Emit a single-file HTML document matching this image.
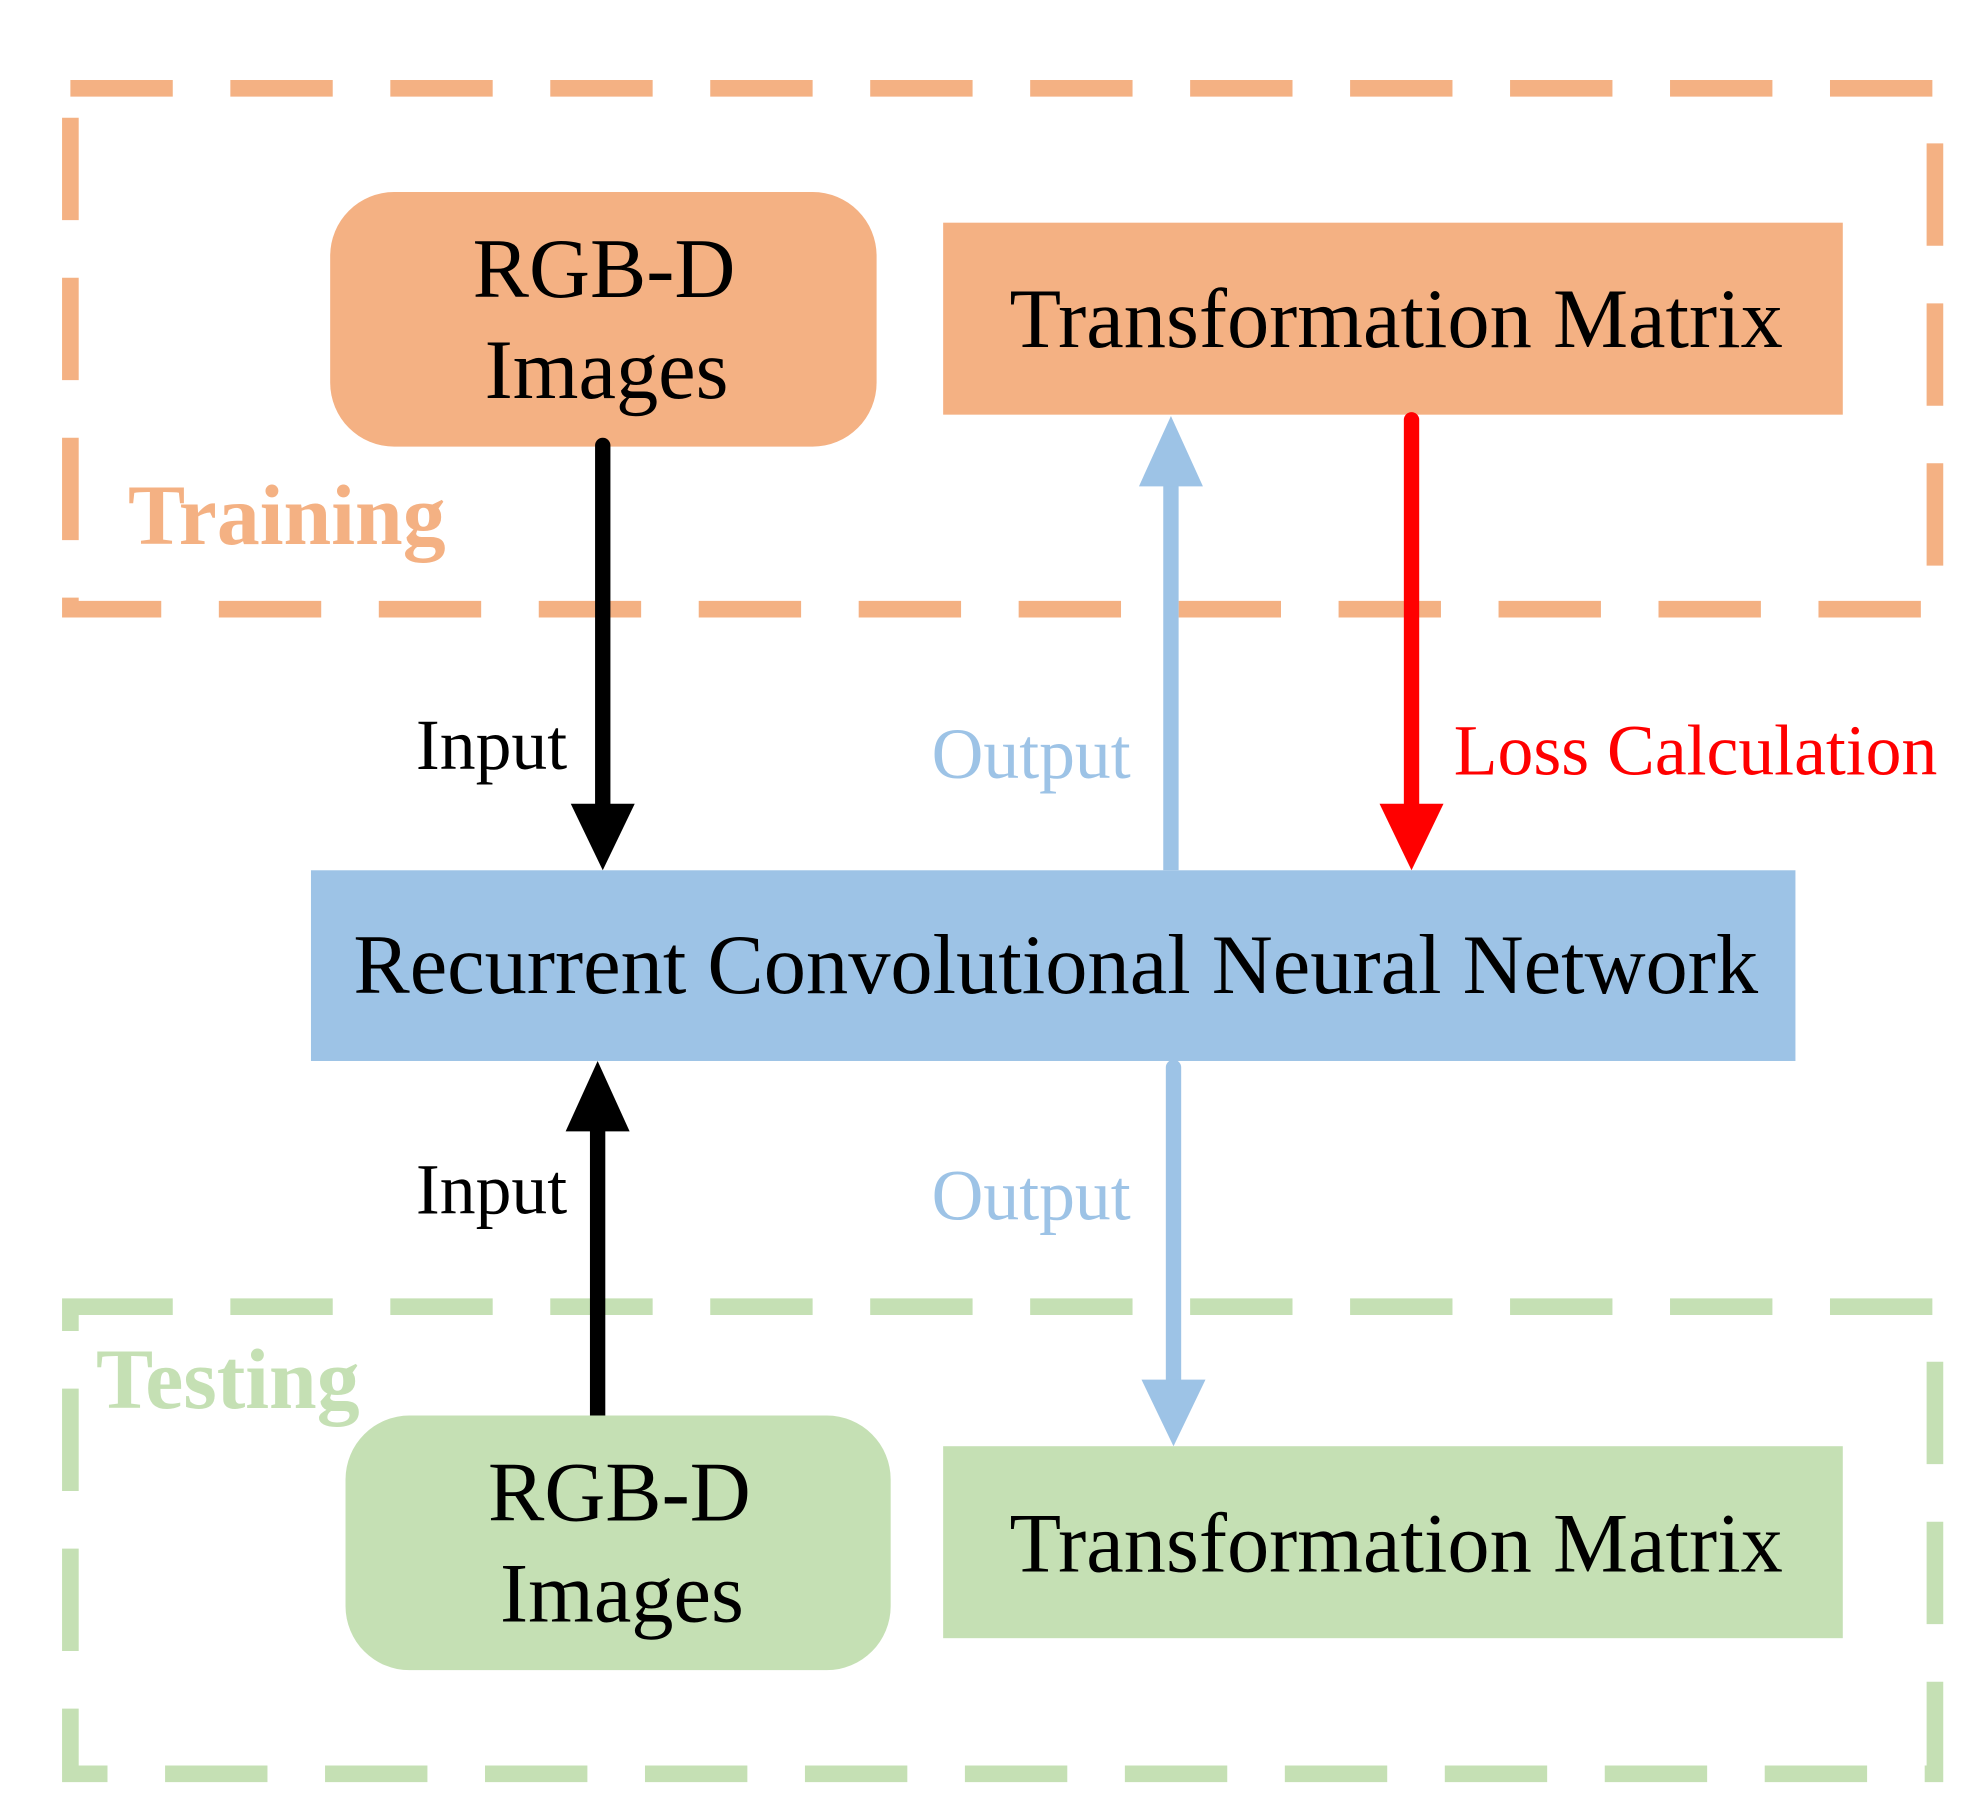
<!DOCTYPE html>
<html><head><meta charset="utf-8"><style>
html,body{margin:0;padding:0;background:#fff;}
svg{display:block;}
text{font-family:"Liberation Serif",serif;}
</style></head><body>
<svg width="1981" height="1802" viewBox="0 0 1548 1408" preserveAspectRatio="none" xmlns="http://www.w3.org/2000/svg">
<rect width="1548" height="1408" fill="#fff"/>
<rect x="55" y="69" width="1457" height="407" fill="none" stroke="#F4B183" stroke-width="13" stroke-dasharray="80 45"/>
<rect x="55" y="1021" width="1457" height="365" fill="none" stroke="#C5E0B4" stroke-width="13" stroke-dasharray="80 45"/>
<rect x="258" y="150" width="427" height="199" rx="50" fill="#F4B183"/>
<rect x="737" y="174" width="703" height="150" fill="#F4B183"/>
<rect x="243" y="680" width="1160" height="149" fill="#9DC3E6"/>
<rect x="270" y="1106" width="426" height="199" rx="50" fill="#C5E0B4"/>
<rect x="737" y="1130" width="703" height="150" fill="#C5E0B4"/>
<line x1="471" y1="348" x2="471" y2="632" stroke="#000" stroke-width="12" stroke-linecap="round"/>
<polygon points="446,628 496,628 471,680" fill="#000"/>
<line x1="915" y1="680" x2="915" y2="376" stroke="#9DC3E6" stroke-width="12"/>
<polygon points="890,380 940,380 915,325" fill="#9DC3E6"/>
<line x1="1103" y1="328" x2="1103" y2="632" stroke="#FF0000" stroke-width="12" stroke-linecap="round"/>
<polygon points="1078,628 1128,628 1103,680" fill="#FF0000"/>
<line x1="467" y1="1106" x2="467" y2="880" stroke="#000" stroke-width="12"/>
<polygon points="442,884 492,884 467,829" fill="#000"/>
<line x1="917" y1="834" x2="917" y2="1082" stroke="#9DC3E6" stroke-width="12" stroke-linecap="round"/>
<polygon points="892,1078 942,1078 917,1130" fill="#9DC3E6"/>
<g font-size="66" text-anchor="middle" fill="#000">
<text x="472" y="232">RGB-D</text>
<text x="474" y="311">Images</text>
<text x="1091" y="271">Transformation Matrix</text>
<text x="825" y="776">Recurrent Convolutional Neural Network</text>
<text x="484" y="1188">RGB-D</text>
<text x="486" y="1267">Images</text>
<text x="1091" y="1228">Transformation Matrix</text>
</g>
<g font-size="56">
<text x="325" y="601" fill="#000">Input</text>
<text x="325" y="948" fill="#000">Input</text>
<text x="728" y="608" fill="#9DC3E6">Output</text>
<text x="728" y="953" fill="#9DC3E6">Output</text>
<text x="1136" y="605" fill="#FF0000">Loss Calculation</text>
</g>
<text x="100" y="425" font-size="67" font-weight="bold" fill="#F4B183">Training</text>
<text x="75" y="1100" font-size="67" font-weight="bold" fill="#C5E0B4">Testing</text>
</svg>
</body></html>
